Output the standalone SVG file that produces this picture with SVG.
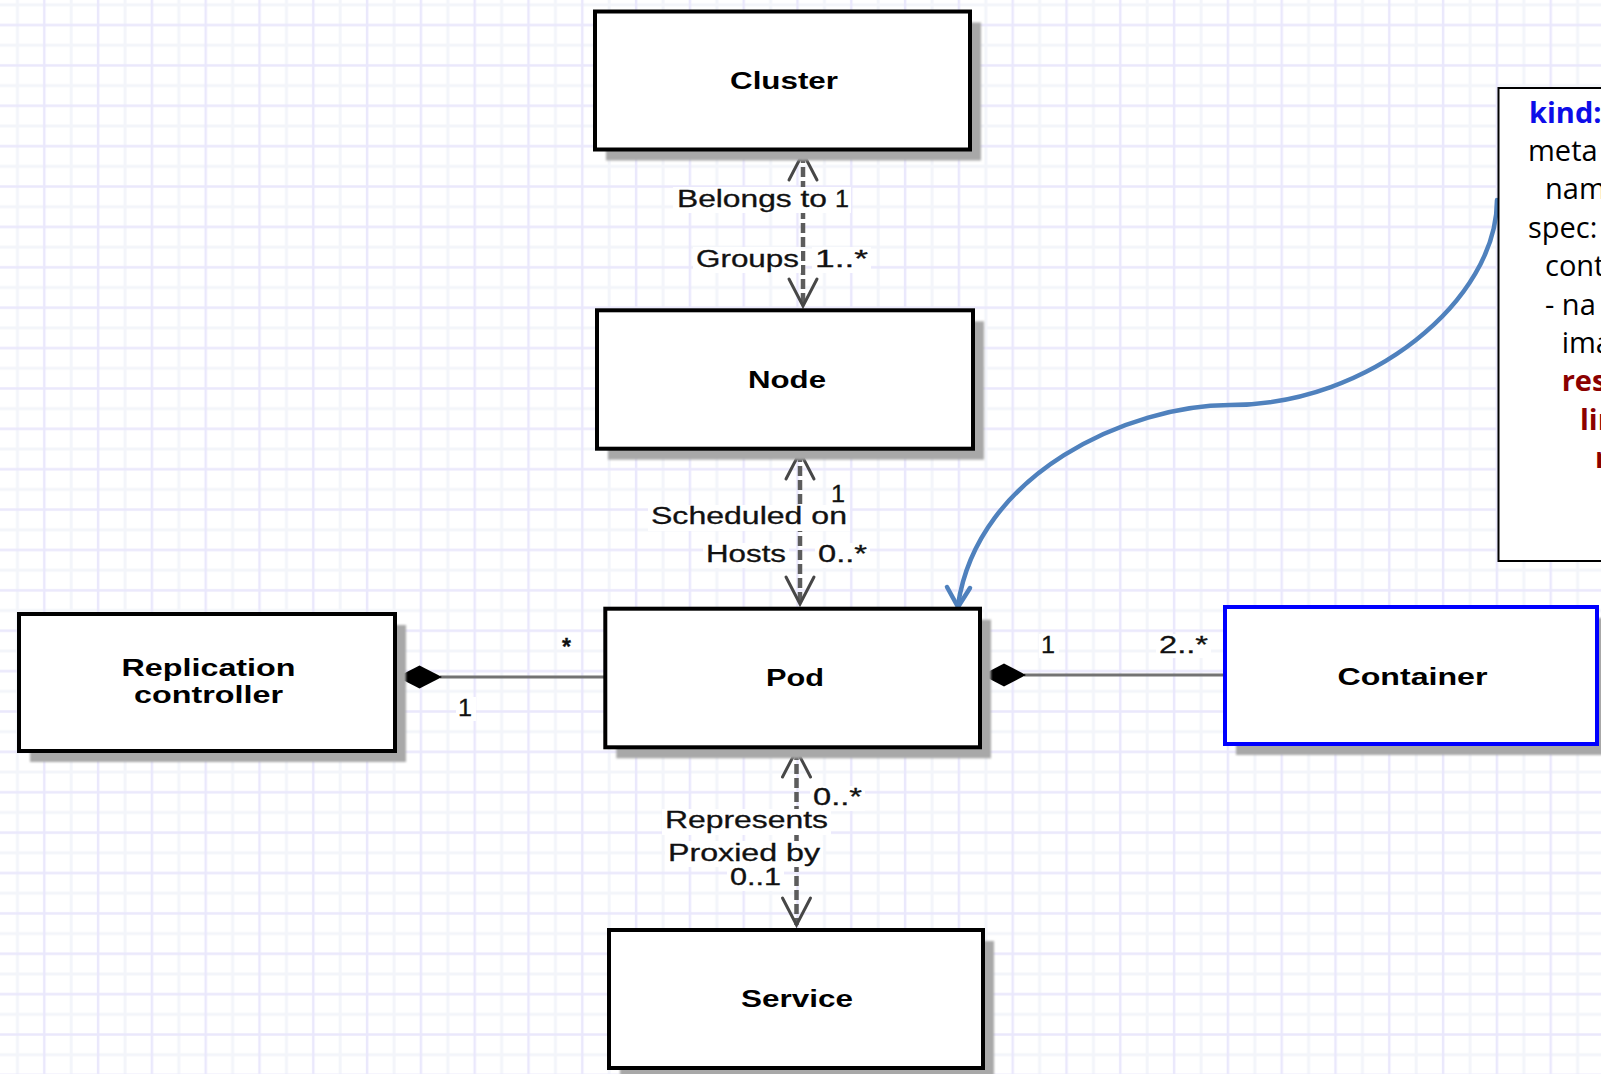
<svg xmlns="http://www.w3.org/2000/svg" width="1601" height="1074" viewBox="0 0 1601 1074">
  <defs>
    <pattern id="grid" x="4.3" y="-5" width="53.8" height="40.38" patternUnits="userSpaceOnUse">
      <path d="M13.1 0V40.38M0 9.81H53.8" stroke="#f3f5fa" stroke-width="3" fill="none"/>
      <path d="M40 0V40.38M0 30H53.8" stroke="#eae8fc" stroke-width="2.5" fill="none"/>
    </pattern>
    <filter id="soft" x="-5%" y="-5%" width="110%" height="110%">
      <feGaussianBlur stdDeviation="1.3"/>
    </filter>
    <marker id="open" viewBox="-32 -18 36 36" refX="0" refY="0" markerWidth="36" markerHeight="36" markerUnits="userSpaceOnUse" orient="auto-start-reverse">
      <path class="head" d="M-27,-14 L0,0 L-27,14"/>
    </marker>
    <style>
      .shadow { fill: #a8a8a8; filter: url(#soft); }
      .box { fill: #ffffff; stroke: #000000; stroke-width: 4; }
      .box.blue { stroke: #0000ff; }
      .name { font-family: "Liberation Sans", Arial, sans-serif; font-weight: bold; font-size: 23px; fill: #000000; }
      .lbl { font-family: "Liberation Sans", Arial, sans-serif; font-size: 23px; fill: #111111; stroke: #111111; stroke-width: 0.3; }
      .bg { fill: #ffffff; }
      .dash { stroke: #5c5c5c; stroke-width: 4.5; stroke-dasharray: 10 4; fill: none; }
      .head { fill: none; stroke: #474747; stroke-width: 3; stroke-dasharray: none; stroke-linecap: round; }
      .assoc { stroke: #737373; stroke-width: 3; fill: none; }
      .diamond { fill: #000000; }
      .link { fill: none; stroke: #4f81bd; stroke-width: 4.5; stroke-linecap: round; stroke-linejoin: round; }
      .yaml { font-family: "Open Sans", "Noto Sans", sans-serif; font-size: 29px; fill: #000000; }
      .kw { font-weight: bold; fill: #0d0de8; }
      .res { font-weight: bold; fill: #8b0000; }
    </style>
  </defs>

  <!-- graph paper background -->
  <rect x="0" y="0" width="1601" height="1074" fill="#ffffff"/>
  <rect x="0" y="0" width="1601" height="1074" fill="url(#grid)"/>

  <!-- connectors -->
  <g id="connectors">
    <!-- Cluster / Node -->
    <line class="dash" x1="803" y1="153" x2="803" y2="306" marker-start="url(#open)" marker-end="url(#open)"/>
    <!-- Node / Pod -->
    <line class="dash" x1="800" y1="452" x2="800" y2="604" marker-start="url(#open)" marker-end="url(#open)"/>
    <!-- Pod / Service -->
    <line class="dash" x1="796.5" y1="750" x2="796.5" y2="925" marker-start="url(#open)" marker-end="url(#open)"/>
    <!-- Replication controller composes Pod -->
    <line class="assoc" x1="440" y1="677" x2="604" y2="677"/>
    <polygon class="diamond" points="397,677 419.5,665.5 442,677 419.5,688.5"/>
    <!-- Pod composes Container -->
    <line class="assoc" x1="1024" y1="675" x2="1224" y2="675"/>
    <polygon class="diamond" points="982,675 1004,663.5 1026,675 1004,686.5"/>
    <!-- manifest callout -->
    <path class="link" d="M1497,200 C1497,300 1370,405 1230,405 C1130,405 978,472 958,605"/>
    <path class="link" d="M947,587 L958,607 L970,588"/>

    <!-- association labels -->
    <rect class="bg" x="673" y="187" width="178" height="26"/>
    <text class="lbl" x="677" y="206.7" textLength="150" lengthAdjust="spacingAndGlyphs">Belongs to</text>
    <text class="lbl" x="835" y="206.7" textLength="14" lengthAdjust="spacingAndGlyphs">1</text>
    <rect class="bg" x="693" y="247" width="108" height="26"/>
    <text class="lbl" x="696" y="266.5" textLength="103" lengthAdjust="spacingAndGlyphs">Groups</text>
    <rect class="bg" x="812" y="247" width="59" height="26"/>
    <text class="lbl" x="815" y="266.5" textLength="53" lengthAdjust="spacingAndGlyphs">1..*</text>

    <text class="lbl" x="831" y="501.5" textLength="14" lengthAdjust="spacingAndGlyphs">1</text>
    <rect class="bg" x="648" y="505" width="202" height="26"/>
    <text class="lbl" x="651" y="524" textLength="196" lengthAdjust="spacingAndGlyphs">Scheduled on</text>
    <rect class="bg" x="703" y="543" width="86" height="25"/>
    <text class="lbl" x="706" y="561.5" textLength="80" lengthAdjust="spacingAndGlyphs">Hosts</text>
    <rect class="bg" x="815" y="543" width="55" height="25"/>
    <text class="lbl" x="818" y="562" textLength="49" lengthAdjust="spacingAndGlyphs">0..*</text>

    <rect class="bg" x="810" y="786" width="55" height="25"/>
    <text class="lbl" x="813" y="805" textLength="49" lengthAdjust="spacingAndGlyphs">0..*</text>
    <rect class="bg" x="662" y="809" width="169" height="26"/>
    <text class="lbl" x="665" y="828" textLength="163" lengthAdjust="spacingAndGlyphs">Represents</text>
    <rect class="bg" x="665" y="841" width="158" height="26"/>
    <text class="lbl" x="668" y="860.5" textLength="152" lengthAdjust="spacingAndGlyphs">Proxied by</text>
    <rect class="bg" x="727" y="867" width="57" height="24"/>
    <text class="lbl" x="730" y="885" textLength="51" lengthAdjust="spacingAndGlyphs">0..1</text>

    <text class="lbl" x="562" y="655" font-weight="bold">*</text>
    <rect class="bg" x="456" y="697" width="20" height="24"/>
    <text class="lbl" x="458" y="716" textLength="14" lengthAdjust="spacingAndGlyphs">1</text>
    <rect class="bg" x="1039" y="634" width="20" height="24"/>
    <text class="lbl" x="1041" y="653" textLength="14" lengthAdjust="spacingAndGlyphs">1</text>
    <rect class="bg" x="1156" y="634" width="55" height="24"/>
    <text class="lbl" x="1159" y="653" textLength="49" lengthAdjust="spacingAndGlyphs">2..*</text>
  </g>

  <!-- classes -->
  <g id="cluster">
    <rect class="shadow" x="606" y="22.5" width="375" height="138"/>
    <rect class="box" x="595" y="11.5" width="375" height="138"/>
    <text class="name" x="730" y="89.3" textLength="108" lengthAdjust="spacingAndGlyphs">Cluster</text>
  </g>
  <g id="node">
    <rect class="shadow" x="608" y="321.3" width="376" height="138.4"/>
    <rect class="box" x="597" y="310.3" width="376" height="138.4"/>
    <text class="name" x="748" y="388.3" textLength="78" lengthAdjust="spacingAndGlyphs">Node</text>
  </g>
  <g id="pod">
    <rect class="shadow" x="616.3" y="619.7" width="374.7" height="138.6"/>
    <rect class="box" x="605.3" y="608.7" width="374.7" height="138.6"/>
    <text class="name" x="766" y="685.7" textLength="58" lengthAdjust="spacingAndGlyphs">Pod</text>
  </g>
  <g id="service">
    <rect class="shadow" x="620" y="941" width="374" height="138"/>
    <rect class="box" x="609" y="930" width="374" height="138"/>
    <text class="name" x="741" y="1007" textLength="112" lengthAdjust="spacingAndGlyphs">Service</text>
  </g>
  <g id="replication-controller">
    <rect class="shadow" x="30" y="625" width="376" height="137"/>
    <rect class="box" x="19" y="614" width="376" height="137"/>
    <text class="name" x="121.5" y="676" textLength="174" lengthAdjust="spacingAndGlyphs">Replication</text>
    <text class="name" x="134" y="703" textLength="149" lengthAdjust="spacingAndGlyphs">controller</text>
  </g>
  <g id="container">
    <rect class="shadow" x="1236" y="618" width="372" height="137"/>
    <rect class="box blue" x="1225" y="607" width="372" height="137"/>
    <text class="name" x="1337.5" y="684.5" textLength="150" lengthAdjust="spacingAndGlyphs">Container</text>
  </g>

  <!-- pod manifest excerpt -->
  <g id="manifest">
    <rect x="1498.5" y="88" width="120" height="473" fill="#ffffff" stroke="#000000" stroke-width="2"/>
    <text class="yaml kw" x="1529" y="122.5">kind:</text>
    <text class="yaml" x="1528" y="160.9">meta</text>
    <text class="yaml" x="1545" y="199.3">nam</text>
    <text class="yaml" x="1528" y="237.7">spec:</text>
    <text class="yaml" x="1545" y="276.1">cont</text>
    <text class="yaml" x="1545" y="314.5">- na</text>
    <text class="yaml" x="1561.7" y="352.9">ima</text>
    <text class="yaml res" x="1561.7" y="391.3">res</text>
    <text class="yaml res" x="1580" y="429.7">lin</text>
    <text class="yaml res" x="1595" y="468.1">m</text>
  </g>
</svg>
